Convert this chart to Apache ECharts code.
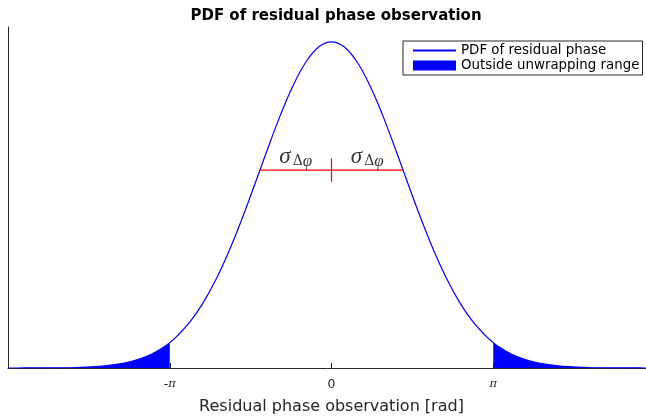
<!DOCTYPE html>
<html>
<head>
<meta charset="utf-8">
<script src="https://cdn.jsdelivr.net/npm/echarts@6/dist/echarts.min.js"></script>
<style>
  html, body { margin: 0; padding: 0; background: #fff; }
  #chart { width: 646px; height: 417px; }
</style>
</head>
<body>
<div id="chart"></div>
<script>
// Residual phase observation grid (rad) and its probability density
const phaseX = [
  -6.2832, -6.0, -5.5, -5.0, -4.75, -4.5, -4.25, -4.0, -3.75, -3.5, -3.25, -3.1416,
  -3.0, -2.75, -2.5, -2.25, -2.0, -1.75, -1.5, -1.25, -1.0, -0.75, -0.5, -0.25,
  0,
  0.25, 0.5, 0.75, 1.0, 1.25, 1.5, 1.75, 2.0, 2.25, 2.5, 2.75, 3.0,
  3.1416, 3.25, 3.5, 3.75, 4.0, 4.25, 4.5, 4.75, 5.0, 5.5, 6.0, 6.2832
];
const pdfValues = [
  0.00001, 0.00003, 0.00011, 0.00044, 0.00084, 0.00152, 0.00268, 0.00457, 0.00754, 0.01206, 0.01866, 0.0223,
  0.0280, 0.0405, 0.0569, 0.0774, 0.1019, 0.1299, 0.1603, 0.1916, 0.2216, 0.2481, 0.2690, 0.2824,
  0.2870,
  0.2824, 0.2690, 0.2481, 0.2216, 0.1916, 0.1603, 0.1299, 0.1019, 0.0774, 0.0569, 0.0405, 0.0280,
  0.0223, 0.01866, 0.01206, 0.00754, 0.00457, 0.00268, 0.00152, 0.00084, 0.00044, 0.00011, 0.00003, 0.00001
];

// Unwrapping range limits and the standard deviation marker
const unwrapLimit = 3.1416;
const sigma = 1.39;
const sigmaLevel = 0.1741;
const sigmaTickHalf = 0.0103;

// Axis ticks and labels
const tickValues = [-3.1416, 0, 3.1416];
const tickLabels = ['-π', '0', 'π'];

const seriesNames = ['PDF of residual phase', 'Outside unwrapping range'];

const curve = phaseX.map((x, i) => [x, pdfValues[i]]);
const leftTail = curve.filter(p => p[0] <= -unwrapLimit + 1e-6);
const rightTail = curve.filter(p => p[0] >= unwrapLimit - 1e-6);

const blue = '#0000ff';
const red = '#ff0000';
const ink = '#262626';

const sigmaRich = {
  s: { fontFamily: 'Liberation Serif', fontStyle: 'italic', fontSize: 23, color: '#000' },
  d: { fontFamily: 'DejaVu Serif', fontSize: 14, color: '#000', padding: [10, 0, 0, 2] },
  f: { fontFamily: 'Liberation Serif', fontStyle: 'italic', fontSize: 17, color: '#000', padding: [10, 0, 0, 0] }
};

const chart = echarts.init(document.getElementById('chart'), null, { renderer: 'canvas' });

chart.setOption({
  animation: false,
  backgroundColor: '#fff',
  title: {
    text: 'PDF of residual phase observation',
    left: 331,
    textAlign: 'center',
    top: 4,
    textStyle: { fontFamily: 'DejaVu Sans', fontWeight: 'bold', fontSize: 15, color: '#000' }
  },
  legend: {
    orient: 'vertical',
    left: 403,
    top: 41,
    padding: [3, 3, 3, 9],
    itemGap: 2,
    itemWidth: 43,
    itemHeight: 10,
    borderColor: ink,
    borderWidth: 1,
    borderRadius: 0,
    backgroundColor: '#fff',
    textStyle: { fontFamily: 'DejaVu Sans', fontSize: 13.4, color: '#000' },
    data: [
      { name: seriesNames[0], itemStyle: { color: 'rgba(0,0,0,0)', borderWidth: 0 } },
      { name: seriesNames[1], icon: 'rect', itemStyle: { color: blue } }
    ]
  },
  grid: { left: 8, right: -9, top: 27, bottom: 49, containLabel: false, outerBoundsMode: 'none' },
  xAxis: {
    type: 'value',
    min: -6.2832,
    max: 6.2832,
    interval: 3.1416,
    name: 'Residual phase observation [rad]',
    nameLocation: 'middle',
    nameGap: 31,
    nameTextStyle: { fontFamily: 'DejaVu Sans', fontSize: 16, color: ink },
    axisLine: { onZero: false, lineStyle: { color: ink, width: 1 } },
    axisTick: { inside: true, length: 5, customValues: tickValues, lineStyle: { color: ink } },
    axisLabel: {
      customValues: tickValues,
      margin: 10,
      formatter: v => {
        const i = tickValues.findIndex(t => Math.abs(t - v) < 1e-3);
        const t = i >= 0 ? tickLabels[i] : '';
        return t.split('').map(c => c === 'π' ? '{p|π}' : '{n|' + c + '}').join('');
      },
      fontFamily: 'DejaVu Sans',
      fontSize: 12,
      color: ink,
      rich: {
        n: { fontFamily: 'DejaVu Sans', fontSize: 12.5, color: ink },
        p: { fontFamily: 'DejaVu Serif', fontStyle: 'italic', fontSize: 11.5, color: ink }
      }
    },
    splitLine: { show: false }
  },
  yAxis: {
    type: 'value',
    min: 0,
    max: 0.3,
    axisLine: { show: true, onZero: false, lineStyle: { color: ink, width: 1 } },
    axisTick: { show: false },
    axisLabel: { show: false },
    splitLine: { show: false }
  },
  series: [
    {
      name: seriesNames[1],
      type: 'line',
      data: leftTail,
      smooth: 0.4,
      symbol: 'none',
      lineStyle: { width: 0, color: blue },
      itemStyle: { color: blue },
      areaStyle: { color: blue, opacity: 1, origin: 'start' },
      z: 2
    },
    {
      name: seriesNames[1],
      type: 'line',
      data: rightTail,
      smooth: 0.4,
      symbol: 'none',
      lineStyle: { width: 0, color: blue },
      itemStyle: { color: blue },
      areaStyle: { color: blue, opacity: 1, origin: 'start' },
      z: 2
    },
    {
      name: seriesNames[0],
      type: 'line',
      data: curve,
      smooth: 0.4,
      symbol: 'none',
      lineStyle: { width: 1.2, color: blue },
      itemStyle: { color: blue },
      z: 3
    },
    {
      name: 'sigma-span',
      type: 'line',
      data: [[-sigma, sigmaLevel], [sigma, sigmaLevel]],
      symbol: 'none',
      lineStyle: { width: 1.2, color: red },
      itemStyle: { color: red },
      z: 4
    },
    {
      name: 'sigma-center',
      type: 'line',
      data: [[0, sigmaLevel - sigmaTickHalf], [0, sigmaLevel + sigmaTickHalf]],
      symbol: 'none',
      lineStyle: { width: 1.2, color: red },
      itemStyle: { color: red },
      z: 4
    },
    {
      name: 'sigma-labels',
      type: 'scatter',
      symbolSize: 0,
      data: [[-sigma / 2, sigmaLevel], [sigma / 2, sigmaLevel]],
      label: {
        show: true,
        position: 'top',
        distance: 0,
        formatter: '{s|σ}{d|Δ}{f|φ}',
        rich: sigmaRich
      },
      z: 5
    }
  ]
});
</script>
</body>
</html>
